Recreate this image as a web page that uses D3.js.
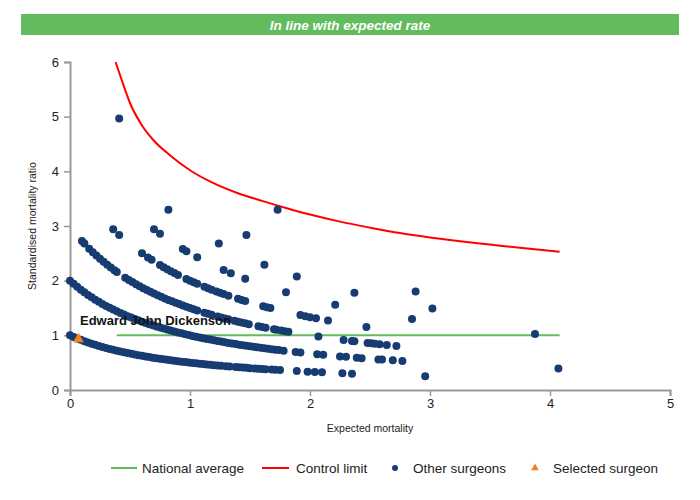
<!DOCTYPE html>
<html><head><meta charset="utf-8">
<script src="https://cdn.jsdelivr.net/npm/d3@7"></script>
<style>
body{margin:0;background:#fff;}
svg{display:block;font-family:"Liberation Sans",Arial,sans-serif;}
</style></head>
<body><svg id="chart" width="700" height="500"></svg>
<script>
const titleText = "In line with expected rate";
const xLabel = "Expected mortality";
const yLabel = "Standardised mortality ratio";
const xTicks = [0, 1, 2, 3, 4, 5];
const yTicks = [0, 1, 2, 3, 4, 5, 6];
const legendLabels = ["National average", "Control limit", "Other surgeons", "Selected surgeon"];

// Other surgeons: [expected mortality, SMR]
const band1 = [[0.00,1.000],[0.03,0.971],[0.06,0.943],[0.09,0.917],[0.12,0.893],[0.15,0.870],[0.18,0.847],[0.21,0.826],[0.24,0.806],[0.27,0.787],[0.30,0.769],[0.33,0.752],[0.36,0.735],[0.39,0.719],[0.42,0.704],[0.45,0.690],[0.48,0.676],[0.51,0.662],[0.54,0.649],[0.57,0.637],[0.60,0.625],[0.63,0.613],[0.66,0.602],[0.69,0.592],[0.72,0.581],[0.75,0.571],[0.78,0.562],[0.81,0.552],[0.84,0.543],[0.87,0.535],[0.90,0.526],[0.93,0.518],[0.96,0.510],[0.99,0.503],[1.02,0.495],[1.05,0.488],[1.08,0.481],[1.11,0.474],[1.14,0.467],[1.17,0.461],[1.20,0.455],[1.23,0.448],[1.26,0.442],[1.30,0.435],[1.33,0.429],[1.38,0.420],[1.41,0.415],[1.44,0.410],[1.47,0.405],[1.50,0.400],[1.54,0.394],[1.57,0.389],[1.60,0.385],[1.63,0.380],[1.68,0.373],[1.71,0.369],[1.75,0.364],[1.89,0.346],[1.98,0.336],[2.04,0.329],[2.10,0.323],[2.27,0.306],[2.35,0.299],[2.96,0.253]];
const band2 = [[0.00,2.000],[0.03,1.942],[0.06,1.887],[0.09,1.835],[0.12,1.786],[0.15,1.739],[0.18,1.695],[0.21,1.653],[0.24,1.613],[0.27,1.575],[0.30,1.538],[0.33,1.504],[0.36,1.471],[0.39,1.439],[0.42,1.408],[0.45,1.379],[0.48,1.351],[0.51,1.325],[0.54,1.299],[0.57,1.274],[0.60,1.250],[0.63,1.227],[0.66,1.205],[0.69,1.183],[0.72,1.163],[0.75,1.143],[0.78,1.124],[0.81,1.105],[0.84,1.087],[0.87,1.070],[0.90,1.053],[0.93,1.036],[0.96,1.020],[0.99,1.005],[1.02,0.990],[1.05,0.976],[1.08,0.962],[1.11,0.948],[1.14,0.935],[1.17,0.922],[1.20,0.909],[1.23,0.897],[1.26,0.885],[1.29,0.873],[1.32,0.862],[1.35,0.851],[1.38,0.840],[1.41,0.830],[1.44,0.820],[1.47,0.810],[1.50,0.800],[1.53,0.791],[1.56,0.781],[1.59,0.772],[1.62,0.763],[1.65,0.755],[1.68,0.746],[1.71,0.738],[1.74,0.730],[1.78,0.719],[1.88,0.694],[1.92,0.685],[2.06,0.654],[2.11,0.643],[2.25,0.615],[2.30,0.606],[2.39,0.590],[2.43,0.583],[2.57,0.560],[2.60,0.556],[2.69,0.542],[2.77,0.531],[4.07,0.394]];
const band3 = [[0.10,2.727],[0.12,2.679],[0.16,2.586],[0.19,2.521],[0.22,2.459],[0.25,2.400],[0.28,2.344],[0.31,2.290],[0.34,2.239],[0.37,2.190],[0.39,2.158],[0.46,2.055],[0.49,2.013],[0.52,1.974],[0.55,1.935],[0.58,1.899],[0.61,1.863],[0.64,1.829],[0.67,1.796],[0.70,1.765],[0.73,1.734],[0.76,1.705],[0.79,1.676],[0.82,1.648],[0.85,1.622],[0.88,1.596],[0.91,1.571],[0.94,1.546],[0.97,1.523],[1.00,1.500],[1.03,1.478],[1.06,1.456],[1.12,1.415],[1.15,1.395],[1.18,1.376],[1.23,1.345],[1.26,1.327],[1.29,1.310],[1.32,1.293],[1.37,1.266],[1.40,1.250],[1.43,1.235],[1.46,1.220],[1.49,1.205],[1.57,1.167],[1.60,1.154],[1.63,1.141],[1.70,1.111],[1.72,1.103],[1.76,1.087],[1.79,1.075],[1.82,1.064],[2.07,0.977],[2.28,0.915],[2.35,0.896],[2.37,0.890],[2.48,0.862],[2.51,0.855],[2.54,0.847],[2.58,0.838],[2.64,0.824],[2.72,0.806]];
const band4 = [[0.36,2.941],[0.41,2.837],[0.60,2.500],[0.65,2.424],[0.68,2.381],[0.75,2.286],[0.78,2.247],[0.81,2.210],[0.84,2.174],[0.87,2.139],[0.90,2.105],[0.97,2.030],[1.00,2.000],[1.03,1.970],[1.06,1.942],[1.12,1.887],[1.15,1.860],[1.18,1.835],[1.22,1.802],[1.25,1.778],[1.28,1.754],[1.32,1.724],[1.40,1.667],[1.43,1.646],[1.46,1.626],[1.61,1.533],[1.64,1.515],[1.67,1.498],[1.92,1.370],[1.96,1.351],[2.00,1.333],[2.05,1.311],[2.15,1.270],[2.47,1.153]];
const band5 = [[0.70,2.941],[0.75,2.857],[0.94,2.577],[0.97,2.538],[1.06,2.427],[1.28,2.193],[1.34,2.137],[1.46,2.033],[1.80,1.786],[2.21,1.558],[2.85,1.299],[3.875,1.026]];
const band6 = [[0.82,3.297],[1.24,2.679],[1.62,2.290],[1.89,2.076],[2.37,1.780],[3.02,1.493]];
const bandHigh = [[0.41,4.965],[1.47,2.834],[2.88,1.804],[1.73,3.297]];

const selectedName = "Edward John Dickenson";
const selectedPoint = [0.07, 0.93];

const nationalAverage = [[0.39,1],[4.08,1]];
const controlLimit = [[0.38,6.0],[0.45,5.55],[0.5,5.25],[0.6,4.84],[0.7,4.56],[0.83,4.3],[1.0,4.02],[1.2,3.78],[1.4,3.6],[1.6,3.46],[1.8,3.33],[2.0,3.21],[2.25,3.08],[2.5,2.97],[2.75,2.87],[3.0,2.79],[3.25,2.72],[3.5,2.66],[3.75,2.6],[4.08,2.53]];

const C = {green:"#62bb5c", red:"#ff0000", blue:"#163c72", orange:"#f5821f", axis:"#9a9a9a", text:"#222"};

const svg = d3.select("#chart");
const x = d3.scaleLinear().domain([0,5]).range([70,670]);
const y = d3.scaleLinear().domain([0,6]).range([390,62]);

// title bar
svg.append("rect").attr("x",21).attr("y",14).attr("width",658).attr("height",21).attr("fill",C.green);
svg.append("text").attr("x",350).attr("y",29.5).attr("text-anchor","middle")
  .attr("fill","#fff").attr("font-weight","bold").attr("font-style","italic")
  .attr("font-size",13.5).attr("font-family","'Liberation Sans Narrow','Arial Narrow','Liberation Sans',sans-serif")
  .text(titleText);

// axes
const gx = svg.append("g").attr("transform","translate(0,390)")
  .call(d3.axisBottom(x).tickValues(xTicks).tickFormat(d3.format("d")).tickSize(6).tickPadding(3));
const gy = svg.append("g").attr("transform","translate(70,0)")
  .call(d3.axisLeft(y).tickValues(yTicks).tickFormat(d3.format("d")).tickSize(6).tickPadding(5));
[gx,gy].forEach(g=>{
  g.select(".domain").attr("stroke",C.axis).attr("stroke-width",2);
  g.selectAll(".tick line").attr("stroke",C.axis).attr("stroke-width",1.5);
  g.selectAll(".tick text").attr("fill",C.text).attr("font-size",13).attr("font-family","'Liberation Sans',Arial,sans-serif");
});

svg.append("text").attr("x",370).attr("y",432).attr("text-anchor","middle")
  .attr("font-size",10.5).attr("fill",C.text).text(xLabel);
svg.append("text").attr("transform","translate(36,226) rotate(-90)").attr("text-anchor","middle")
  .attr("font-size",10.5).attr("fill",C.text).text(yLabel);

// lines
const line = d3.line().x(d=>x(d[0])).y(d=>y(d[1]));
svg.append("path").datum(nationalAverage).attr("d",line).attr("fill","none").attr("stroke",C.green).attr("stroke-width",2);
svg.append("path").datum(controlLimit).attr("d",line.curve(d3.curveMonotoneX)).attr("fill","none").attr("stroke",C.red).attr("stroke-width",2);

// other surgeons
const others = [].concat(band1,band2,band3,band4,band5,band6,bandHigh);
svg.append("g").selectAll("circle").data(others).join("circle")
  .attr("cx",d=>x(d[0])).attr("cy",d=>y(d[1])).attr("r",4).attr("fill",C.blue);

// selected surgeon
svg.append("path").attr("d",d3.symbol(d3.symbolTriangle).size(52)())
  .attr("transform",`translate(${x(selectedPoint[0])},${y(selectedPoint[1])})`).attr("fill",C.orange);
svg.append("text").attr("x",80).attr("y",325).attr("font-weight","bold").attr("font-size",13)
  .attr("fill","#111").text(selectedName);

// legend
const ly = 468;
const lg = svg.append("g").attr("font-size",13.5).attr("fill",C.text);
lg.append("line").attr("x1",111).attr("x2",137).attr("y1",ly).attr("y2",ly).attr("stroke",C.green).attr("stroke-width",2);
lg.append("text").attr("x",142).attr("y",ly+4.5).text(legendLabels[0]);
lg.append("line").attr("x1",262).attr("x2",289).attr("y1",ly).attr("y2",ly).attr("stroke",C.red).attr("stroke-width",2);
lg.append("text").attr("x",296).attr("y",ly+4.5).text(legendLabels[1]);
lg.append("circle").attr("cx",395).attr("cy",ly).attr("r",3).attr("fill",C.blue);
lg.append("text").attr("x",413).attr("y",ly+4.5).text(legendLabels[2]);
lg.append("path").attr("d",d3.symbol(d3.symbolTriangle).size(26)()).attr("transform",`translate(535,${ly})`).attr("fill",C.orange);
lg.append("text").attr("x",553).attr("y",ly+4.5).text(legendLabels[3]);
</script></body></html>
